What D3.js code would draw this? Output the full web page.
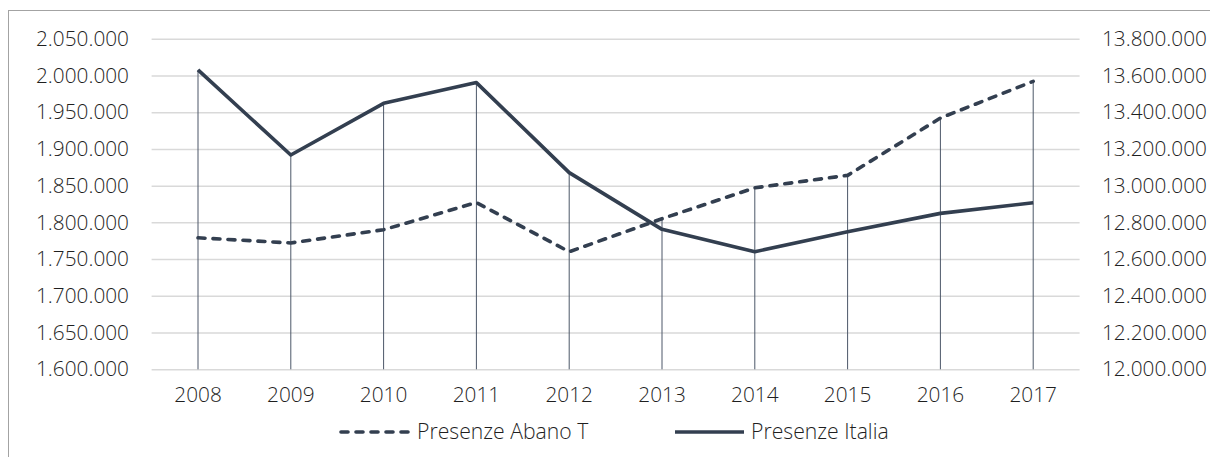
<!DOCTYPE html>
<html>
<head>
<meta charset="utf-8">
<script src="https://cdn.jsdelivr.net/npm/d3@7"></script>
<style>
  body { margin: 0; background: #fff; }
  svg { display: block; font-family: "Open Sans", sans-serif; font-weight: 300; }
  .tick text { fill: #1f1f1f; font-size: 20.8px; }
</style>
</head>
<body>
<svg width="1210" height="457"></svg>
<script>
// data
var years = ["2008", "2009", "2010", "2011", "2012", "2013", "2014", "2015", "2016", "2017"];
var abano = [1779000, 1772000, 1790000, 1827000, 1760000, 1805000, 1847000, 1864000, 1942000, 1992000];
var italia = [13630000, 13167000, 13448000, 13561000, 13071000, 12762000, 12640000, 12749000, 12849000, 12907000];
var leftTicks = d3.range(1600000, 2050001, 50000);
var rightTicks = d3.range(12000000, 13800001, 200000);
var seriesNames = ["Presenze Abano T", "Presenze Italia"];

var lineColor = "#333f50";

var svg = d3.select("svg");
var plot = {left: 151.6, right: 1079.6, top: 38.7, bottom: 369.3};

var it = d3.formatLocale({decimal: ",", thousands: ".", grouping: [3], currency: ["", "€"]});
var fmt = it.format(",");

// outer chart border (only left and top visible in the frame)
svg.append("rect")
    .attr("x", 8.5).attr("y", 10.5)
    .attr("width", 1300).attr("height", 500)
    .attr("fill", "none")
    .attr("stroke", "#a3a3a3");

var x = d3.scaleBand().domain(years).range([plot.left, plot.right]);
var yL = d3.scaleLinear().domain([1600000, 2050000]).range([plot.bottom, plot.top]);
var yR = d3.scaleLinear().domain([12000000, 13800000]).range([plot.bottom, plot.top]);
function cx(d) { return x(d) + x.bandwidth() / 2; }

// drop the axis' own font settings so the css applies
function clean(g) {
  g.attr("font-family", null).attr("font-size", null);
  g.select(".domain").remove();
}

// gridlines
svg.append("g")
    .attr("transform", "translate(" + plot.left + ",0)")
    .call(d3.axisLeft(yL).tickValues(leftTicks).tickSize(-(plot.right - plot.left)).tickFormat(""))
    .call(clean)
    .selectAll("line")
      .attr("stroke", "#d9d9d9")
      .attr("stroke-width", 1.5);

// left axis labels
svg.append("g")
    .attr("transform", "translate(129,0)")
    .call(d3.axisLeft(yL).tickValues(leftTicks).tickSize(0).tickPadding(0).tickFormat(fmt))
    .call(clean);

// right axis labels
svg.append("g")
    .attr("transform", "translate(1102,0)")
    .call(d3.axisRight(yR).tickValues(rightTicks).tickSize(0).tickPadding(0).tickFormat(fmt))
    .call(clean);

// category labels
svg.append("g")
    .attr("transform", "translate(0," + (plot.bottom + 18) + ")")
    .call(d3.axisBottom(x).tickSize(0).tickPadding(0))
    .call(clean);

// drop lines from the highest point of the two series
svg.append("g")
  .selectAll("line")
  .data(years)
  .enter().append("line")
    .attr("x1", cx).attr("x2", cx)
    .attr("y1", function(d, i){ return Math.min(yL(abano[i]), yR(italia[i])); })
    .attr("y2", plot.bottom)
    .attr("stroke", "#4c5768")
    .attr("stroke-width", 1);

var lineL = d3.line().x(function(d, i){ return cx(years[i]); }).y(function(d){ return yL(d); });
var lineR = d3.line().x(function(d, i){ return cx(years[i]); }).y(function(d){ return yR(d); });

svg.append("path")
    .datum(italia)
    .attr("d", lineR)
    .attr("fill", "none")
    .attr("stroke", lineColor)
    .attr("stroke-width", 3.6)
    .attr("stroke-linejoin", "round");

svg.append("path")
    .datum(abano)
    .attr("d", lineL)
    .attr("fill", "none")
    .attr("stroke", lineColor)
    .attr("stroke-width", 3.6)
    .attr("stroke-dasharray", "7,8")
    .attr("stroke-linecap", "round")
    .attr("stroke-linejoin", "round");

// legend
var legend = svg.append("g").attr("class", "legend");
var items = [
  {name: seriesNames[0], x0: 341, dash: "7,8", cap: "round"},
  {name: seriesNames[1], x0: 675, dash: null, cap: "butt"}
];
var lg = legend.selectAll("g").data(items).enter().append("g");
lg.append("line")
    .attr("x1", function(d){ return d.x0; })
    .attr("x2", function(d){ return d.x0 + 69; })
    .attr("y1", 432).attr("y2", 432)
    .attr("stroke", lineColor)
    .attr("stroke-width", 3.6)
    .attr("stroke-dasharray", function(d){ return d.dash; })
    .attr("stroke-linecap", function(d){ return d.cap; });
lg.append("text")
    .attr("x", function(d){ return d.x0 + 76; })
    .attr("y", 432)
    .attr("dy", "0.35em")
    .attr("fill", "#1f1f1f")
    .attr("font-size", "21.2px")
    .text(function(d){ return d.name; });
</script>
</body>
</html>
